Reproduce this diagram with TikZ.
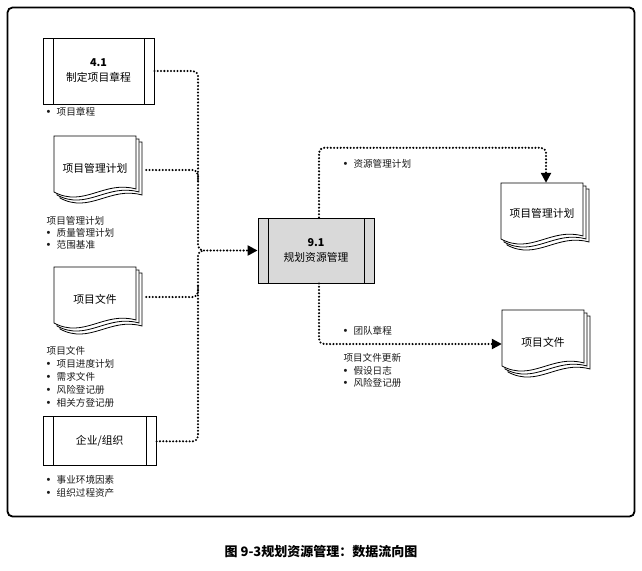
\documentclass[tikz,border=0pt]{standalone}
\usepackage{fontspec}
\setmainfont{Noto Sans CJK SC}
\newfontfamily\bulfont{Liberation Sans}
\usetikzlibrary{arrows.meta,calc}
\newcommand{\bu}{\makebox[10pt][l]{\bulfont\fontsize{11}{12}\selectfont\textbullet}}
\newcommand{\docstack}[2]{%
  \begin{scope}[shift={(#1,#2)}]
    \foreach \o in {6,3,0} {
      \draw[docline] (\o,\o) -- (82+\o,\o) -- (82+\o,53+\o)
        .. controls (50+\o,44+\o) and (30+\o,72+\o) .. (\o,56+\o) -- cycle;
    }
  \end{scope}}
\begin{document}
\begin{tikzpicture}[x=1pt,y=-1pt,
  procbox/.style={draw, line width=0.9pt, inner sep=0pt, align=center,
    font=\fontsize{10.8}{15}\selectfont,
    path picture={
      \draw[line width=0.9pt] ([xshift=10pt]path picture bounding box.north west) -- ([xshift=10pt]path picture bounding box.south west);
      \draw[line width=0.9pt] ([xshift=-10pt]path picture bounding box.north east) -- ([xshift=-10pt]path picture bounding box.south east);
    }},
  docline/.style={draw, line width=0.8pt, fill=white},
  doctext/.style={inner sep=0pt, minimum width=82pt, minimum height=60pt, font=\fontsize{10.8}{13}\selectfont},
  lst/.style={anchor=west, inner sep=0pt, font=\fontsize{9.6}{12}\selectfont, text=black!90},
  flow/.style={line width=2.3pt, dash pattern=on 0pt off 3.3pt, line cap=round, rounded corners=5pt},
  arr/.style={-{Triangle[length=10pt,width=10pt]}}
]
\useasboundingbox (0,0) rectangle (642,570);
% frame
\draw[line width=1.8pt, rounded corners=5pt] (7.5,7.5) rectangle (634.5,516.5);

% documents (shapes)
\docstack{54}{136}
\docstack{54}{267}
\docstack{501}{183}
\docstack{502}{310}

% nodes
\node[procbox, minimum width=111pt, minimum height=66pt] (p41) at (98.5,71)
  {\textbf{4.1}\\制定项目章程};
\node[procbox, minimum width=113pt, minimum height=49pt] (penv) at (99.7,441.3)
  {企业/组织};
\node[procbox, fill=black!15, minimum width=116pt, minimum height=65pt] (proc) at (316,250.5)
  {\textbf{9.1}\\规划资源管理};

\node[doctext] (d1) at (95,168) {项目管理计划};
\node[doctext] (d2) at (95,299) {项目文件};
\node[doctext] (d3) at (542,213) {项目管理计划};
\node[doctext] (d4) at (543,342) {项目文件};

% junctions
\coordinate (j) at (198,250.5);
\coordinate (j2) at (204,250.5);
\coordinate (jd1) at (198,180);
\coordinate (jd2) at (198,287);

% connectors
\draw[flow, arr] (p41.east) -| (j) -- (proc.west);
\draw[flow] (penv.east) -| (j) -- (j2);
\draw[flow] ([xshift=10pt,yshift=-2pt]d1.east) -| (jd1);
\draw[flow] ([xshift=10pt,yshift=2pt]d2.east) -| (jd2);
\draw[flow, arr] ([xshift=3pt]proc.north) |- ([xshift=4pt,yshift=35pt]d3.north) -- ([xshift=4pt]d3.north);
\draw[flow, arr] ([xshift=3pt]proc.south) |- ([yshift=-2pt]d4.west);

% labels
\node[lst] (l1) at (46.5,111.7) {\bu 项目章程};

\node[lst] (l2) at (46.5,220.7) {项目管理计划};
\node[lst] (l3) at (46.5,232.7) {\bu 质量管理计划};
\node[lst] (l4) at (46.5,244.5) {\bu 范围基准};

\node[lst] (l5) at (46.5,350.5) {项目文件};
\node[lst] (l6) at (46.5,364) {\bu 项目进度计划};
\node[lst] (l7) at (46.5,377.3) {\bu 需求文件};
\node[lst] (l8) at (46.5,390.3) {\bu 风险登记册};
\node[lst] (l9) at (46.5,403.3) {\bu 相关方登记册};

\node[lst] (l10) at (46.5,480) {\bu 事业环境因素};
\node[lst] (l11) at (46.5,492.7) {\bu 组织过程资产};

\node[lst] (r1) at (343.3,164) {\bu 资源管理计划};
\node[lst] (r2) at (343.3,330.7) {\bu 团队章程};
\node[lst] (r3) at (343.3,358.3) {项目文件更新};
\node[lst] (r4) at (343.3,370.5) {\bu 假设日志};
\node[lst] (r5) at (343.3,382.7) {\bu 风险登记册};

% caption
\node[font=\fontsize{13}{15}\selectfont\bfseries, inner sep=0pt] (cap) at (321,552)
  {图 9-3规划资源管理：数据流向图};
\end{tikzpicture}
\end{document}
